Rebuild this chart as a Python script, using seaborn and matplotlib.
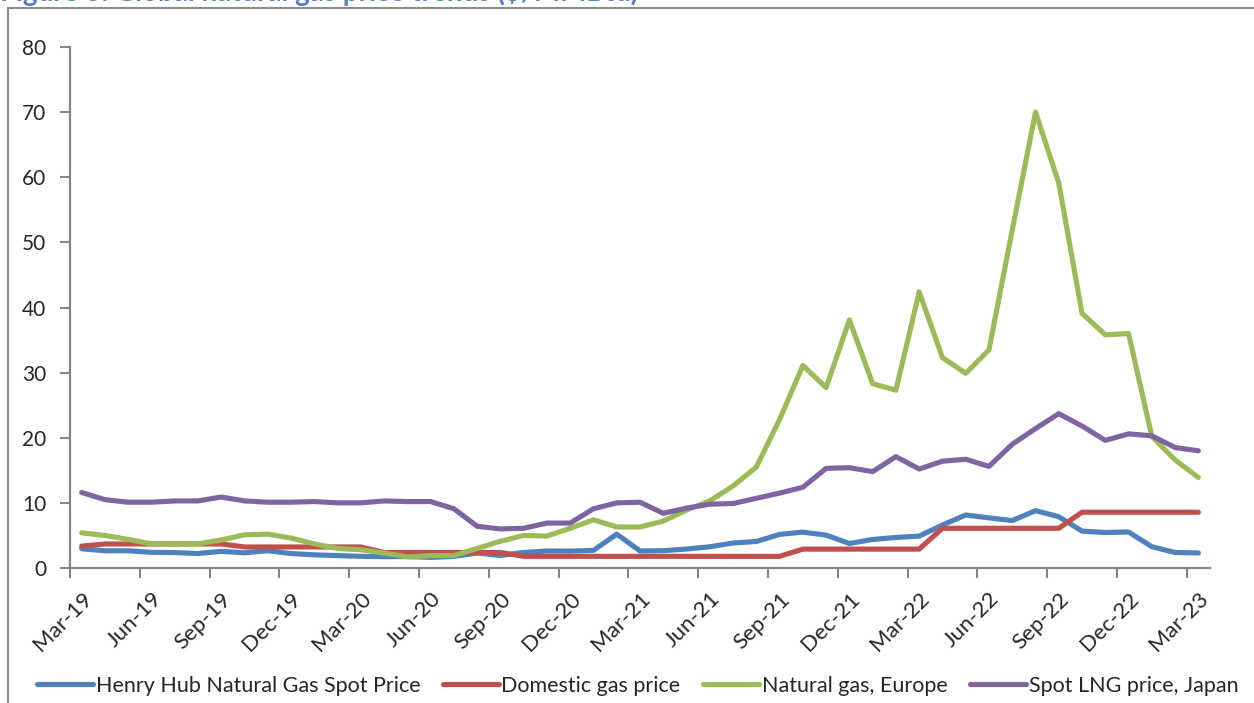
import matplotlib
matplotlib.use("Agg")
import matplotlib.pyplot as plt
import matplotlib.lines as mlines
from matplotlib.patches import Rectangle
import seaborn as sns
import pandas as pd
import numpy as np

# Monthly observations, Mar-2019 .. Mar-2023 ($/MMBtu)
months = pd.date_range("2019-03-01", "2023-03-01", freq="MS")
month_labels = [d.strftime("%b-%y") for d in months]

henry_hub = [2.95, 2.65, 2.64, 2.40, 2.37, 2.22, 2.56, 2.33, 2.65, 2.22,
             2.02, 1.91, 1.79, 1.74, 1.75, 1.63, 1.77, 2.30, 1.92, 2.39, 2.61, 2.59,
             2.71, 5.20, 2.62, 2.66, 2.91, 3.26, 3.84, 4.07, 5.16, 5.51, 5.05, 3.76,
             4.38, 4.69, 4.90, 6.60, 8.14, 7.70, 7.28, 8.80, 7.88, 5.66, 5.45, 5.53,
             3.27, 2.38, 2.31]

domestic = [3.36, 3.69, 3.69, 3.69, 3.69, 3.69, 3.69,
            3.23, 3.23, 3.23, 3.23, 3.23, 3.23,
            2.39, 2.39, 2.39, 2.39, 2.39, 2.39,
            1.79, 1.79, 1.79, 1.79, 1.79, 1.79, 1.79, 1.79, 1.79, 1.79, 1.79, 1.79,
            2.90, 2.90, 2.90, 2.90, 2.90, 2.90,
            6.10, 6.10, 6.10, 6.10, 6.10, 6.10,
            8.57, 8.57, 8.57, 8.57, 8.57, 8.57]

europe = [5.4, 5.0, 4.4, 3.7, 3.7, 3.7, 4.3, 5.1, 5.2, 4.6,
          3.7, 3.0, 2.8, 2.3, 1.7, 1.9, 1.9, 3.0, 4.1, 5.0, 4.9, 6.1,
          7.4, 6.3, 6.3, 7.2, 8.9, 10.3, 12.6, 15.5, 22.8, 31.1, 27.7, 38.1,
          28.3, 27.3, 42.4, 32.3, 29.9, 33.5, 51.9, 70.0, 59.1, 39.1, 35.8, 36.0,
          20.2, 16.6, 13.9]

japan_lng = [11.6, 10.5, 10.1, 10.1, 10.3, 10.3, 10.9, 10.3, 10.1, 10.1,
             10.2, 10.0, 10.0, 10.3, 10.2, 10.2, 9.1, 6.4, 6.0, 6.1, 6.9, 6.9,
             9.1, 10.0, 10.1, 8.4, 9.2, 9.8, 9.9, 10.7, 11.5, 12.4, 15.3, 15.4,
             14.8, 17.1, 15.2, 16.4, 16.7, 15.6, 19.0, 21.4, 23.7, 21.8, 19.6, 20.6,
             20.3, 18.5, 18.0]

series_names = ["Henry Hub Natural Gas Spot Price", "Domestic gas price",
                "Natural gas, Europe", "Spot LNG price, Japan"]
series_colors = ["#4F81BD", "#C0504D", "#9BBB59", "#8064A2"]

# Category axis: each month occupies one slot, points sit in the slot centre
df = pd.DataFrame({
    "pos": np.arange(len(months)) + 0.5,
    series_names[0]: henry_hub,
    series_names[1]: domestic,
    series_names[2]: europe,
    series_names[3]: japan_lng,
})
long = df.melt(id_vars="pos", var_name="series", value_name="price")

sns.set_theme(style="white")
plt.rcParams["font.family"] = ["Lato", "DejaVu Sans"]

W, H = 1254, 703
fig = plt.figure(figsize=(W / 100, H / 100), dpi=100)
fig.patch.set_facecolor("white")

# Chart frame (only its top-left corner falls inside the canvas)
fig.patches.append(Rectangle((8 / W, -0.2), 1.2, 1.2 - 8 / H, transform=fig.transFigure,
                             fill=False, edgecolor="#8C8C8C", linewidth=1.5, zorder=0))

# Caption sitting above the frame
fig.text(0.0, 1 - 0.5 / H, "Figure 3: Global natural gas price trends ($/MMBtu)",
         color="#4F81BD", fontsize=20, fontweight="bold", ha="left", va="baseline")

ax = fig.add_axes([70 / W, 135 / H, 1140 / W, 521 / H])
sns.lineplot(data=long, x="pos", y="price", hue="series", hue_order=series_names,
             palette=series_colors, linewidth=3.7, sort=False, legend=False, ax=ax)
for ln in ax.get_lines():
    ln.set_solid_joinstyle("round")
    ln.set_solid_capstyle("round")
    ln.set_clip_on(False)

n = len(months)
ax.set_xlim(0, n)
ax.set_ylim(0, 80)
ax.set_yticks(range(0, 81, 10))
# labels centred on their month slot, tick marks on the slot boundaries
ax.set_xticks(np.arange(0.5, n, 3))
ax.set_xticklabels(month_labels[::3], rotation=45, ha="right", va="top",
                   rotation_mode="anchor", fontsize=16)
ax.set_xticks(np.arange(0, n, 3), minor=True)
ax.tick_params(axis="y", labelsize=15, direction="out", length=7, width=1.5,
               color="#868686", left=True, pad=10)
ax.tick_params(axis="x", which="major", length=0, pad=15, bottom=True)
ax.tick_params(axis="x", which="minor", direction="out", length=7, width=1.5,
               color="#868686", bottom=True)
ax.set_xlabel("")
ax.set_ylabel("")
for side in ("top", "right"):
    ax.spines[side].set_visible(False)
for side in ("left", "bottom"):
    ax.spines[side].set_color("#868686")
    ax.spines[side].set_linewidth(1.6)
ax.grid(False)

handles = [mlines.Line2D([], [], color=c, linewidth=3.7, solid_capstyle="round")
           for c in series_colors]
fig.legend(handles, series_names, loc="center", bbox_to_anchor=(0.5085, 1 - 686 / H),
           ncol=4, frameon=False, fontsize=15.5, handlelength=2.6, handletextpad=0.12,
           columnspacing=1.05)

fig.savefig("out.png", dpi=100, facecolor="white")
